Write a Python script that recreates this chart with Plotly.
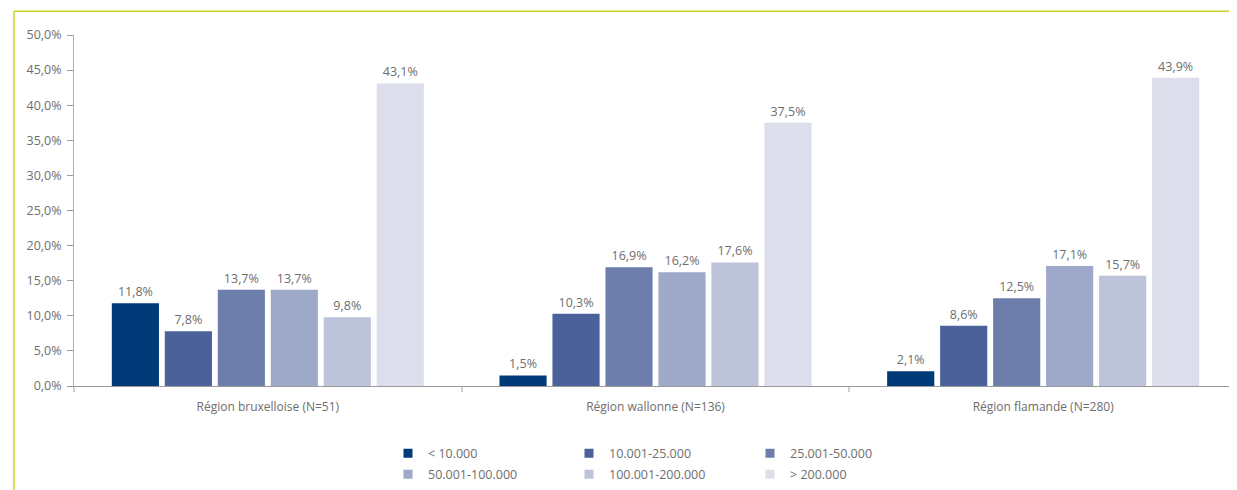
import plotly.graph_objects as go

categories = ["Région bruxelloise (N=51)", "Région wallonne (N=136)", "Région flamande (N=280)"]
series_names = ["< 10.000", "10.001-25.000", "25.001-50.000",
                "50.001-100.000", "100.001-200.000", "> 200.000"]
s_lt10 = [11.8, 1.5, 2.1]
s_10_25 = [7.8, 10.3, 8.6]
s_25_50 = [13.7, 16.9, 12.5]
s_50_100 = [13.7, 16.2, 17.1]
s_100_200 = [9.8, 17.6, 15.7]
s_gt200 = [43.1, 37.5, 43.9]
series_values = [s_lt10, s_10_25, s_25_50, s_50_100, s_100_200, s_gt200]
colors = ["#003a78", "#4a6299", "#6e7eac", "#9ea8c8", "#bdc3d9", "#dcdfeb"]
y_ticks = [0, 5, 10, 15, 20, 25, 30, 35, 40, 45, 50]
y_tick_text = [f"{v:.1f}".replace(".", ",") + "%" for v in y_ticks]

# page body has an 8px default margin; lay out in reference pixel coords
OFF = 8
W, H = 1237 - OFF, 490 - OFF
ML, MR, MT, MB = 74 - OFF, 0, 35 - OFF, 102
FONT = "Open Sans"
GRAY = "#6e6e6e"

fig = go.Figure()
for i, (name, vals, col) in enumerate(zip(series_names, series_values, colors)):
    fig.add_trace(go.Bar(
        x=categories, y=vals, name=name, showlegend=False,
        marker=dict(color=col, line=dict(width=0)),
        text=vals, texttemplate="%{y:.1f}%", textposition="outside",
        textfont=dict(color=GRAY, size=12.5, family=FONT),
        cliponaxis=False,
    ))
# legend entries (small square swatches like the reference)
for i, (name, col) in enumerate(zip(series_names, colors)):
    fig.add_trace(go.Scatter(
        x=[None], y=[None], mode="markers", name=name,
        marker=dict(symbol="square", size=9, color=col),
        legend="legend" if i < 3 else "legend2",
    ))

pw = W - ML - MR
ph = H - MT - MB
def px_x(p):  # reference pixel -> paper x
    return (p - OFF - ML) / pw
def px_y(p):  # reference pixel -> paper y
    return (H - MB - (p - OFF)) / ph

border_col = "#cad32a"
fig.add_shape(type="line", xref="paper", yref="paper",
              x0=px_x(14), x1=px_x(1250), y0=px_y(11), y1=px_y(11),
              line=dict(color=border_col, width=1.5))
fig.add_shape(type="line", xref="paper", yref="paper",
              x0=px_x(14), x1=px_x(14), y0=px_y(11), y1=px_y(500),
              line=dict(color=border_col, width=1.5))

legend_common = dict(orientation="h", xanchor="left", yanchor="top",
                     entrywidth=136, entrywidthmode="pixels",
                     font=dict(color=GRAY, size=12.5, family=FONT),
                     bgcolor="rgba(0,0,0,0)", tracegroupgap=0,
                     itemclick=False, itemdoubleclick=False)

fig.update_layout(
    width=W, height=H,
    margin=dict(l=ML, r=MR, t=MT, b=MB),
    paper_bgcolor="white", plot_bgcolor="white",
    separators=",.",
    barmode="group", bargap=0.18, bargroupgap=0.11,
    font=dict(family=FONT, color=GRAY, size=12.5),
    legend=dict(x=px_x(388), y=px_y(441), **legend_common),
    legend2=dict(x=px_x(388), y=px_y(462), **legend_common),
    xaxis=dict(showline=True, linecolor="#9a9a9a", linewidth=1,
               ticks="outside", tickson="boundaries", ticklen=5,
               tickcolor="#d0d0d0", tickwidth=2, ticklabelstandoff=10,
               tickfont=dict(color=GRAY, size=12, family=FONT),
               showgrid=False, zeroline=False),
    yaxis=dict(range=[0, 50], tickmode="array", tickvals=y_ticks,
               ticktext=y_tick_text,
               showline=True, linecolor="#b0b0b0", linewidth=1,
               ticks="outside", ticklen=6, tickcolor="#9a9a9a",
               ticklabelstandoff=3,
               tickfont=dict(color=GRAY, size=12.5, family=FONT),
               showgrid=False, zeroline=False),
)

fig.write_html("out.html")
